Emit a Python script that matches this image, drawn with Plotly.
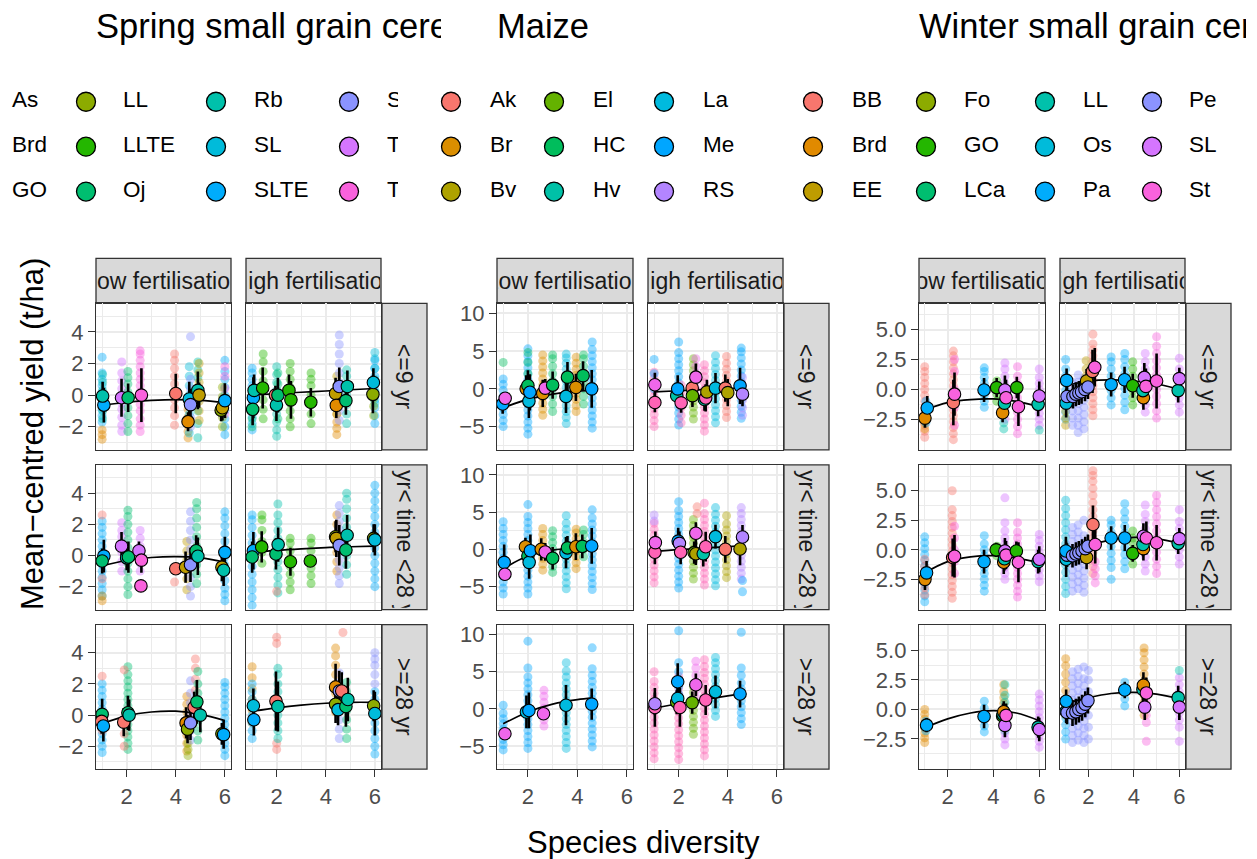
import math
import plotly.graph_objects as go

W, H = 1257, 859
FONT = "Liberation Sans, Arial, sans-serif"

# ------------------------------------------------------------------ species
SPRING_SPECIES = ["As", "Brd", "GO", "LL", "LLTE", "Oj", "Rb", "SL", "SLTE", "S", "T", "Tb", "U"]
SPRING_LABELS = ["As", "Brd", "GO", "LL", "LLTE", "Oj", "Rb", "SL", "SLTE", "S", "T", "T", ""]
MAIZE_SPECIES = ["Ak", "Br", "Bv", "El", "HC", "Hv", "La", "Me", "RS", "Mx", "My"]
MAIZE_LABELS = ["Ak", "Br", "Bv", "El", "HC", "Hv", "La", "Me", "RS", "", ""]
WINTER_SPECIES = ["BB", "Brd", "EE", "Fo", "GO", "LCa", "LL", "Os", "Pa", "Pe", "SL", "St", "W"]
WINTER_LABELS = ["BB", "Brd", "EE", "Fo", "GO", "LCa", "LL", "Os", "Pa", "Pe", "SL", "St", ""]

TITLES = ["Spring small grain cereals", "Maize", "Winter small grain cereals"]
FERT = ["Low fertilisation", "High fertilisation"]
TIMES = ["<=9 yr", "9 yr< time <28 yr", ">=28 yr"]
X_TICKS = [2, 4, 6]
X_MINOR = [1, 3, 5]

# ------------------------------------------------------------------ means: (row, col, species, x, mean, err)
SPRING_MEANS = [
    (0, 0, "SLTE", 1.07, -0.63, 1.1), (0, 0, "Rb", 1.02, -0.06, 0.9), (0, 0, "T", 1.79, -0.17, 1.2),
    (0, 0, "Oj", 2.06, -0.17, 0.9), (0, 0, "Tb", 2.6, 0.0, 1.7), (0, 0, "As", 4.0, 0.1, 1.25),
    (0, 0, "Brd", 4.5, -1.68, 0.6), (0, 0, "SL", 4.55, -0.25, 1.1), (0, 0, "S", 4.6, -0.6, 1.0),
    (0, 0, "Rb", 4.9, 0.3, 1.2), (0, 0, "GO", 4.95, 0.0, 0.8), (0, 0, "LL", 5.85, -0.95, 0.7),
    (0, 0, "GO", 5.9, -0.8, 0.8), (0, 0, "SLTE", 6.0, -0.35, 1.1),
    (0, 1, "SLTE", 1.05, -0.17, 1.3), (0, 1, "Oj", 1.02, -0.9, 1.0), (0, 1, "Rb", 1.08, 0.3, 1.0),
    (0, 1, "LLTE", 1.43, 0.45, 1.3), (0, 1, "As", 1.95, 0.0, 0.6), (0, 1, "Rb", 1.99, -0.63, 1.0),
    (0, 1, "Oj", 2.05, 0.0, 1.1), (0, 1, "LLTE", 2.5, 0.3, 1.0), (0, 1, "LLTE", 2.58, -0.3, 1.2),
    (0, 1, "LLTE", 3.39, -0.45, 0.9), (0, 1, "GO", 4.4, 0.1, 1.0), (0, 1, "Brd", 4.43, -0.65, 0.8),
    (0, 1, "S", 4.55, 0.55, 1.2), (0, 1, "Oj", 4.82, -0.35, 0.9), (0, 1, "Rb", 4.88, 0.55, 1.0),
    (0, 1, "LL", 5.92, 0.05, 1.2), (0, 1, "SL", 5.94, 0.8, 0.9),
    (1, 0, "SLTE", 1.07, -0.04, 1.05), (1, 0, "Oj", 1.0, -0.35, 0.8), (1, 0, "T", 1.79, 0.6, 0.9),
    (1, 0, "Rb", 2.0, -0.15, 0.8), (1, 0, "Oj", 2.07, -0.1, 1.0), (1, 0, "T", 2.5, 0.3, 0.6),
    (1, 0, "Tb", 2.6, -0.3, 0.8), (1, 0, "Tb", 2.58, -1.95, 0.0), (1, 0, "As", 4.0, -0.85, 0.0),
    (1, 0, "GO", 4.4, -0.75, 1.0), (1, 0, "S", 4.6, -0.6, 1.1), (1, 0, "Oj", 4.83, 0.3, 1.0),
    (1, 0, "Rb", 4.9, -0.05, 1.2), (1, 0, "GO", 5.88, -0.75, 0.9), (1, 0, "Rb", 5.95, -0.95, 1.0),
    (1, 0, "SLTE", 6.0, 0.2, 1.0),
    (1, 1, "SLTE", 1.05, 0.3, 1.2), (1, 1, "Oj", 1.0, -0.1, 1.0), (1, 1, "LLTE", 1.39, 0.55, 1.0),
    (1, 1, "Oj", 1.97, 0.1, 1.0), (1, 1, "Rb", 2.06, 0.7, 1.1), (1, 1, "LLTE", 2.56, -0.4, 0.9),
    (1, 1, "LLTE", 3.37, -0.35, 0.0), (1, 1, "LL", 4.4, 1.2, 1.0), (1, 1, "GO", 4.43, 1.1, 1.2),
    (1, 1, "S", 4.55, 0.65, 1.3), (1, 1, "Oj", 4.82, 0.35, 1.2), (1, 1, "Rb", 4.87, 1.3, 1.3),
    (1, 1, "LL", 5.95, 1.1, 0.9), (1, 1, "SL", 6.0, 1.0, 1.0),
    (2, 0, "Oj", 1.0, 0.05, 1.0), (2, 0, "As", 0.98, -0.4, 0.8), (2, 0, "SLTE", 1.05, -0.7, 1.0),
    (2, 0, "As", 1.88, -0.45, 0.9), (2, 0, "Oj", 2.05, 0.15, 1.1), (2, 0, "Rb", 2.1, 0.0, 1.0),
    (2, 0, "Brd", 4.42, -0.5, 1.0), (2, 0, "LL", 4.48, -0.9, 0.9), (2, 0, "S", 4.6, -0.5, 1.1),
    (2, 0, "As", 4.75, 0.5, 1.0), (2, 0, "Oj", 4.86, 0.85, 1.4), (2, 0, "Rb", 5.0, 0.0, 1.1),
    (2, 0, "LL", 5.88, -1.2, 0.7), (2, 0, "SLTE", 5.95, -1.25, 0.9),
    (2, 1, "SL", 1.05, 0.6, 1.1), (2, 1, "SLTE", 1.07, -0.3, 1.0), (2, 1, "As", 1.97, 0.9, 1.9),
    (2, 1, "Rb", 2.05, 0.55, 1.6), (2, 1, "LL", 4.4, 0.7, 1.2), (2, 1, "Brd", 4.4, 1.8, 1.5),
    (2, 1, "SL", 4.5, 0.35, 1.0), (2, 1, "S", 4.55, 1.55, 1.3), (2, 1, "As", 4.65, 1.55, 1.2),
    (2, 1, "Oj", 4.82, 0.55, 1.3), (2, 1, "Rb", 4.9, 1.0, 1.4), (2, 1, "LL", 5.95, 0.6, 1.0),
    (2, 1, "SL", 6.0, 0.1, 1.4),
]

MAIZE_MEANS = [
    (0, 0, "Me", 0.98, -2.0, 1.3), (0, 0, "Mx", 1.08, -1.25, 0.5), (0, 0, "Br", 1.93, 0.0, 1.8),
    (0, 0, "HC", 2.0, 0.45, 2.0), (0, 0, "La", 2.04, -1.65, 2.2), (0, 0, "Me", 2.08, -0.45, 2.4),
    (0, 0, "Br", 2.6, -0.6, 1.8), (0, 0, "Mx", 2.7, 0.1, 1.2), (0, 0, "HC", 3.0, 0.5, 1.8),
    (0, 0, "La", 3.54, -1.0, 2.2), (0, 0, "HC", 3.6, 1.55, 2.0), (0, 0, "Br", 3.94, 0.2, 1.8),
    (0, 0, "HC", 4.23, 1.75, 1.9), (0, 0, "Me", 4.58, 0.0, 2.5),
    (0, 1, "Mx", 1.03, 0.55, 1.6), (0, 1, "My", 1.03, -1.8, 1.3), (0, 1, "Hv", 1.92, -0.9, 1.2),
    (0, 1, "Me", 1.96, 0.0, 1.8), (0, 1, "My", 2.1, -1.85, 1.3), (0, 1, "Ak", 2.55, 0.1, 1.5),
    (0, 1, "El", 2.56, -0.9, 1.5), (0, 1, "Mx", 2.7, 1.55, 1.8), (0, 1, "Hv", 3.05, -1.4, 1.5),
    (0, 1, "My", 3.1, -1.2, 1.8), (0, 1, "Bv", 3.15, -0.4, 1.6), (0, 1, "La", 3.5, 0.1, 2.0),
    (0, 1, "Ak", 3.9, 0.1, 1.8), (0, 1, "Bv", 4.0, -0.5, 1.8), (0, 1, "Me", 4.5, 0.4, 2.4),
    (0, 1, "RS", 4.6, -0.7, 1.6),
    (1, 0, "Me", 1.04, -1.75, 2.4), (1, 0, "Mx", 1.07, -3.35, 0.8), (1, 0, "Br", 1.9, 0.35, 1.2),
    (1, 0, "HC", 2.0, -0.9, 1.5), (1, 0, "La", 2.05, -1.75, 2.2), (1, 0, "Me", 2.1, -0.2, 2.2),
    (1, 0, "Br", 2.54, 0.0, 1.5), (1, 0, "Mx", 2.7, -0.35, 1.2), (1, 0, "HC", 3.0, -1.2, 1.5),
    (1, 0, "La", 3.54, -0.45, 2.1), (1, 0, "HC", 3.6, 0.2, 1.6), (1, 0, "Br", 3.94, 0.35, 1.8),
    (1, 0, "HC", 4.2, 0.4, 1.6), (1, 0, "Me", 4.58, 0.45, 2.4),
    (1, 1, "My", 1.03, -0.4, 1.6), (1, 1, "Mx", 1.05, 0.9, 1.5), (1, 1, "Me", 1.98, 1.1, 1.8),
    (1, 1, "RS", 2.03, 0.8, 1.6), (1, 1, "My", 2.08, -0.4, 1.6), (1, 1, "El", 2.63, -0.45, 1.5),
    (1, 1, "Bv", 2.7, -0.6, 1.5), (1, 1, "Mx", 2.7, 2.15, 1.5), (1, 1, "Hv", 3.0, -0.6, 1.7),
    (1, 1, "My", 3.1, 0.35, 2.0), (1, 1, "La", 3.5, 1.7, 1.6), (1, 1, "Ak", 3.9, 0.0, 1.8),
    (1, 1, "Bv", 4.5, 0.05, 2.2), (1, 1, "RS", 4.6, 1.65, 1.6),
    (2, 0, "Mx", 1.07, -3.33, 0.8), (2, 0, "La", 1.94, -0.4, 2.2), (2, 0, "Me", 2.04, -0.2, 2.4),
    (2, 0, "Mx", 2.63, -0.65, 0.7), (2, 0, "La", 3.54, 0.5, 2.7), (2, 0, "Me", 4.58, 0.65, 2.1),
    (2, 1, "My", 1.03, 0.2, 2.6), (2, 1, "RS", 1.03, 0.7, 1.5), (2, 1, "El", 1.92, 0.9, 1.6),
    (2, 1, "La", 1.96, 1.4, 2.0), (2, 1, "Me", 1.96, 3.65, 2.5), (2, 1, "My", 2.05, 0.2, 2.6),
    (2, 1, "El", 2.55, 0.85, 1.5), (2, 1, "Mx", 2.7, 3.25, 1.5), (2, 1, "My", 3.1, 1.2, 2.0),
    (2, 1, "La", 3.5, 2.3, 2.2), (2, 1, "Me", 4.5, 2.0, 1.8),
]

WINTER_MEANS = [
    (0, 0, "Brd", 1.01, -2.4, 0.8), (0, 0, "Pa", 1.11, -1.55, 1.0), (0, 0, "BB", 2.25, -1.1, 1.9),
    (0, 0, "St", 2.3, -0.4, 1.8), (0, 0, "Pa", 3.59, -0.05, 1.0), (0, 0, "GO", 4.14, 0.15, 0.8),
    (0, 0, "Brd", 4.4, -1.95, 0.8), (0, 0, "LL", 4.48, -1.15, 1.0), (0, 0, "SL", 4.5, -0.05, 1.2),
    (0, 0, "St", 4.55, -0.7, 1.5), (0, 0, "GO", 5.02, 0.15, 0.9), (0, 0, "St", 5.09, -1.45, 1.6),
    (0, 0, "LL", 5.95, -1.25, 1.0), (0, 0, "SL", 6.0, -0.55, 1.2),
    (0, 1, "Os", 1.02, -1.15, 1.2), (0, 1, "Pe", 1.06, -0.6, 1.0), (0, 1, "Pa", 1.04, 0.75, 1.0),
    (0, 1, "Pe", 1.32, -0.6, 1.0), (0, 1, "Pe", 1.45, -0.4, 1.0), (0, 1, "Pe", 1.58, -0.3, 1.0),
    (0, 1, "Pe", 1.7, -0.2, 1.0), (0, 1, "EE", 1.92, 0.7, 1.0), (0, 1, "Pe", 1.85, 0.0, 1.0),
    (0, 1, "Pe", 1.98, 0.2, 1.0), (0, 1, "BB", 2.18, 1.5, 1.8), (0, 1, "St", 2.28, 1.85, 1.6),
    (0, 1, "Pa", 3.0, 0.4, 1.0), (0, 1, "Pa", 3.59, 0.8, 1.1), (0, 1, "GO", 3.95, 0.3, 1.0),
    (0, 1, "Brd", 4.42, -0.7, 1.0), (0, 1, "LL", 4.4, -0.1, 1.0), (0, 1, "SL", 4.46, 1.0, 1.2),
    (0, 1, "St", 4.53, 0.25, 1.5), (0, 1, "St", 5.0, 0.7, 2.3), (0, 1, "LL", 5.95, -0.1, 1.0),
    (0, 1, "SL", 6.0, 0.9, 0.9),
    (1, 0, "Brd", 1.01, -2.5, 0.9), (1, 0, "Pa", 1.08, -1.95, 1.0), (1, 0, "BB", 2.22, -0.65, 1.6),
    (1, 0, "St", 2.3, -0.55, 1.8), (1, 0, "Pa", 3.59, -1.0, 1.0), (1, 0, "GO", 4.12, 0.0, 0.6),
    (1, 0, "Brd", 4.45, -1.05, 1.0), (1, 0, "LL", 4.48, -0.75, 1.0), (1, 0, "SL", 4.5, -0.1, 1.1),
    (1, 0, "St", 4.55, -0.45, 1.2), (1, 0, "GO", 5.0, -0.1, 0.8), (1, 0, "St", 5.09, -1.05, 1.7),
    (1, 0, "LL", 5.95, -1.0, 1.0), (1, 0, "SL", 6.0, -0.8, 1.1),
    (1, 1, "Os", 1.02, -0.8, 1.5), (1, 1, "Pe", 1.06, -0.45, 1.0), (1, 1, "Pa", 1.01, -0.1, 1.2),
    (1, 1, "Pe", 1.3, -0.5, 1.0), (1, 1, "Pe", 1.45, -0.35, 1.0), (1, 1, "Pe", 1.58, -0.25, 1.0),
    (1, 1, "Pe", 1.72, -0.1, 1.0), (1, 1, "EE", 1.92, -0.65, 1.0), (1, 1, "Pe", 1.86, 0.1, 1.0),
    (1, 1, "Pe", 1.98, 0.3, 1.0), (1, 1, "BB", 2.2, 2.15, 1.6), (1, 1, "St", 2.3, 0.45, 1.6),
    (1, 1, "Pa", 3.0, 1.0, 1.0), (1, 1, "Pa", 3.6, 1.0, 1.1), (1, 1, "GO", 3.95, -0.3, 0.7),
    (1, 1, "Brd", 4.42, 0.1, 1.0), (1, 1, "LL", 4.4, 0.45, 1.0), (1, 1, "SL", 4.42, 1.15, 1.1),
    (1, 1, "St", 4.55, 1.0, 1.4), (1, 1, "St", 5.0, 0.6, 1.5), (1, 1, "LL", 5.95, 0.55, 0.9),
    (1, 1, "SL", 6.0, 0.95, 0.9),
    (2, 0, "Pa", 1.08, -1.33, 0.6), (2, 0, "Pa", 3.59, -0.6, 1.0), (2, 0, "GO", 4.4, -0.55, 0.5),
    (2, 0, "LL", 4.42, -0.4, 0.9), (2, 0, "Brd", 4.45, -0.2, 0.9), (2, 0, "SL", 4.5, -1.35, 1.0),
    (2, 0, "St", 4.55, -0.5, 1.0), (2, 0, "LL", 5.95, -1.5, 0.9), (2, 0, "SL", 6.0, -1.7, 1.0),
    (2, 1, "Os", 1.02, -0.15, 1.0), (2, 1, "Pe", 1.06, -0.25, 1.0), (2, 1, "Pa", 1.02, 0.7, 1.0),
    (2, 1, "Pe", 1.3, -0.3, 1.1), (2, 1, "Pe", 1.45, -0.2, 1.1), (2, 1, "Pe", 1.58, 0.0, 1.1),
    (2, 1, "Pe", 1.72, 0.15, 1.1), (2, 1, "Pe", 1.86, 0.45, 1.1), (2, 1, "Pe", 1.98, 0.75, 1.1),
    (2, 1, "Pa", 3.6, 1.65, 0.7), (2, 1, "SL", 4.48, 0.2, 1.1), (2, 1, "LL", 4.4, 1.7, 1.0),
    (2, 1, "Brd", 4.42, 2.05, 1.1), (2, 1, "St", 4.55, 1.4, 1.3), (2, 1, "LL", 5.95, 1.0, 1.0),
    (2, 1, "SL", 6.0, 0.2, 1.1),
]

# ------------------------------------------------------------------ raw observations: (row, col, species, x, values)
SPRING_RAW = [
    (0, 0, "SLTE", 1.0, [-1.7, -1.3, -0.9, -0.5, -0.2, 0.2, 0.6, 1.0, 1.4, 2.4]),
    (0, 0, "Brd", 1.0, [-2.8, -2.5, -2.2]),
    (0, 0, "Rb", 1.02, [-1.5, -1.0, -0.3, 0.3, 0.8, 1.3]),
    (0, 0, "T", 1.8, [-2.3, -1.9, -1.4, -0.9, -0.5, 0.0, 0.4, 0.9, 1.4, 2.1]),
    (0, 0, "Oj", 2.05, [-2.3, -1.8, -1.3, -0.8, -0.3, 0.2, 0.7, 1.1, 1.5]),
    (0, 0, "Tb", 2.55, [-2.3, -1.9, -1.5, -1.0, -0.6, -0.2, 0.2, 0.6, 1.0, 1.4, 1.8, 2.2, 2.6, 2.8]),
    (0, 0, "As", 3.95, [-1.9, -1.3, -0.8, -0.3, 0.2, 0.7, 1.2, 1.7, 2.2, 2.6]),
    (0, 0, "Brd", 4.5, [-2.7, -2.3, -1.9, -1.4, -0.9]),
    (0, 0, "SL", 4.55, [-2.4, -1.8, -1.2, -0.6, 0.0, 0.6, 1.2, 1.8]),
    (0, 0, "S", 4.6, [-2.0, -1.4, -0.8, -0.2, 0.4, 1.0, 3.7]),
    (0, 0, "Rb", 4.9, [-2.7, -1.8, -1.0, -0.3, 0.4, 1.1, 1.6, 2.1]),
    (0, 0, "GO", 4.95, [-1.6, -1.0, -0.4, 0.2, 0.8, 1.4, 2.0]),
    (0, 0, "SLTE", 6.0, [-2.5, -2.0, -1.5, -1.0, -0.5, 0.0, 0.5, 1.0, 1.5, 2.2]),
    (0, 0, "Tb", 6.0, [-1.2, -0.4, 0.4, 1.2, 1.8]),
    (0, 0, "LL", 5.9, [-2.0, -1.4, -0.7, -0.1, 0.5]),
    (0, 1, "SLTE", 1.0, [-2.2, -1.8, -1.4, -1.0, -0.6, -0.2, 0.2, 0.6, 1.0, 1.4, 1.7]),
    (0, 1, "Oj", 1.0, [-2.0, -1.5, -0.8, 0.0]),
    (0, 1, "LLTE", 1.45, [-1.5, -0.9, -0.3, 0.3, 0.9, 1.5, 2.1, 2.6]),
    (0, 1, "Rb", 2.0, [-2.6, -2.2, -1.7, -1.2, -0.7, -0.2, 0.3, 0.8, 1.3, 1.8]),
    (0, 1, "Oj", 2.05, [-1.5, -0.8, 0.0, 0.7, 1.4]),
    (0, 1, "LLTE", 2.55, [-2.0, -1.5, -1.0, -0.5, 0.0, 0.5, 1.0, 1.5, 2.0]),
    (0, 1, "LLTE", 3.4, [-1.8, -1.2, -0.6, 0.0, 0.6, 1.0, 1.4]),
    (0, 1, "Brd", 4.45, [-2.5, -2.1, -1.7, -1.2]),
    (0, 1, "GO", 4.45, [-1.2, -0.6, 0.0, 0.6, 1.2]),
    (0, 1, "S", 4.55, [-1.6, -1.0, -0.4, 0.2, 0.8, 1.4, 2.0, 2.6, 3.2, 3.8]),
    (0, 1, "Rb", 4.85, [-1.8, -1.2, -0.6, 0.0, 0.6, 1.2, 1.6]),
    (0, 1, "SLTE", 6.0, [-1.8, -1.3, -0.8, -0.3, 0.2, 0.7, 1.2, 1.7, 2.2]),
    (0, 1, "SL", 6.0, [-0.5, 0.3, 1.0, 1.7, 2.3, 2.7]),
    (0, 1, "LL", 5.95, [-1.3, -0.7, -0.2]),
    (1, 0, "SLTE", 1.0, [-2.6, -2.2, -1.8, -1.4, -1.0, -0.6, -0.2, 0.2, 0.6, 1.0, 1.4, 1.8, 2.2]),
    (1, 0, "Brd", 1.0, [-2.9, -2.6]),
    (1, 0, "As", 1.0, [2.6, -1.5]),
    (1, 0, "T", 1.8, [-1.0, -0.4, 0.2, 0.7, 1.2, 1.6, 2.1]),
    (1, 0, "Oj", 2.05, [-2.5, -2.0, -1.5, -1.0, -0.5, 0.0, 0.5, 1.0, 1.5, 2.0, 2.5, 2.9]),
    (1, 0, "T", 2.55, [-1.0, -0.5, 0.1, 0.6, 1.1, 1.6]),
    (1, 0, "As", 3.95, [-1.7, -0.9]),
    (1, 0, "GO", 4.45, [-2.2, -1.5, -0.9, -0.3, 0.3, 0.9]),
    (1, 0, "S", 4.6, [-2.6, -2.0, -1.4, -0.8, -0.2, 0.4, 1.0, 1.6, 2.2, 2.8]),
    (1, 0, "Oj", 4.85, [-1.8, -1.2, -0.6, 0.0, 0.6, 1.2, 1.8, 2.4, 3.0, 3.4]),
    (1, 0, "SLTE", 6.0, [-2.9, -2.5, -2.1, -1.6, -1.1, -0.6, -0.1, 0.4, 0.9, 1.4, 1.9, 2.4, 2.8]),
    (1, 1, "SLTE", 1.0, [-3.2, -2.7, -2.2, -1.7, -1.2, -0.7, -0.2, 0.3, 0.8, 1.3, 1.8, 2.3, 2.6]),
    (1, 1, "LLTE", 1.4, [-0.5, 0.2, 0.9, 1.6, 2.3, 2.6]),
    (1, 1, "Rb", 2.05, [-2.4, -1.9, -1.4, -0.9, -0.4, 0.1, 0.6, 1.1, 1.6, 2.1, 2.6, 3.3]),
    (1, 1, "As", 2.0, [-2.3]),
    (1, 1, "LLTE", 2.55, [-2.2, -1.7, -1.2, -0.7, -0.2, 0.3, 0.8, 1.1]),
    (1, 1, "LLTE", 3.4, [-1.8, -1.3, -0.8, -0.3, 0.3, 0.8, 1.1]),
    (1, 1, "Brd", 4.45, [-1.0, -0.4, 0.2, 0.8, 1.4, 2.0, 2.6]),
    (1, 1, "S", 4.55, [-1.8, -1.3, -0.8, -0.3, 0.2, 0.7, 1.2, 1.7, 2.2, 2.7, 3.2]),
    (1, 1, "Rb", 4.85, [-1.2, -0.6, 0.0, 0.6, 1.2, 1.8, 2.4, 3.0, 3.6, 4.0]),
    (1, 1, "SLTE", 6.0, [-2.0, -1.5, -1.0, -0.5, 0.0, 0.5, 1.0, 1.5, 2.0, 2.5, 3.0, 3.5, 4.0, 4.5]),
    (2, 0, "SLTE", 1.0, [-2.4, -2.0, -1.6, -1.2, -0.8, -0.4, 0.0, 0.4, 0.8, 1.2, 1.6, 2.0]),
    (2, 0, "As", 1.0, [2.5, -1.0]),
    (2, 0, "Oj", 2.05, [-2.2, -1.8, -1.4, -1.0, -0.6, -0.2, 0.2, 0.6, 1.0, 1.4, 1.8, 2.2, 2.6, 3.1]),
    (2, 0, "As", 1.9, [-2.0, -1.2, 2.9]),
    (2, 0, "Brd", 4.45, [-2.3, -1.8, -1.3, -0.8, -0.3, 0.2, 0.7, 1.2]),
    (2, 0, "LL", 4.5, [-2.6, -2.2, -1.8]),
    (2, 0, "S", 4.6, [-1.6, -1.0, -0.4, 0.2, 0.8, 1.4, 2.2]),
    (2, 0, "As", 4.8, [0.9, 1.6, 2.3, 3.0, 3.6]),
    (2, 0, "Oj", 4.9, [-1.6, -1.0, -0.4, 0.2, 0.8, 1.4, 2.0, 2.8]),
    (2, 0, "SLTE", 6.0, [-2.6, -2.2, -1.8, -1.4, -1.0, -0.6, -0.2, 0.2, 0.6, 1.0, 1.4, 1.8, 2.1]),
    (2, 1, "Brd", 1.0, [-0.5, 0.3, 1.0, 1.7, 2.4, 3.1]),
    (2, 1, "SLTE", 1.0, [-1.5, -1.0, -0.5, 0.0, 0.5, 1.0, 1.5, 2.0]),
    (2, 1, "As", 2.0, [-2.2, -1.8, 4.6, 5.0]),
    (2, 1, "Rb", 2.05, [-1.5, -1.0, -0.5, 0.0, 0.5, 1.0, 1.5, 2.0, 2.6, 3.0]),
    (2, 1, "Brd", 4.4, [0.2, 0.8, 1.4, 2.0, 2.6, 3.2, 3.8, 4.3]),
    (2, 1, "S", 4.55, [-1.5, -0.9, -0.3, 0.3, 0.9, 1.5, 2.1, 2.7]),
    (2, 1, "Oj", 4.85, [-1.5, -0.9, -0.3, 0.3, 0.9, 1.5, 2.1]),
    (2, 1, "As", 4.7, [5.3]),
    (2, 1, "SLTE", 6.0, [-2.5, -2.0, -1.5, -1.0, -0.5, 0.0, 0.5, 1.0, 1.5]),
    (2, 1, "S", 6.0, [2.0, 2.6, 3.2, 3.6, 4.0]),
]

MAIZE_RAW = [
    (0, 0, "Me", 1.0, [-5.0, -4.2, -3.4, -2.6, -1.8, -1.0, -0.2, 0.6, 1.3]),
    (0, 0, "HC", 1.0, [3.5]),
    (0, 0, "Me", 2.0, [-6.0, -5.2, -4.4, -3.6, -2.8, -2.0, -1.2, -0.4, 0.4, 1.2, 2.0, 2.8, 3.6, 4.4, 5.3]),
    (0, 0, "HC", 2.0, [-1.0, 0.5, 2.0, 3.5, 4.8]),
    (0, 0, "Br", 2.6, [-3.5, -2.7, -1.9, -1.1, -0.3, 0.5, 1.3, 2.1, 2.9, 3.7, 4.5]),
    (0, 0, "HC", 3.0, [-3.0, -2.0, -1.0, 0.0, 1.0, 2.0, 3.0, 4.0, 4.5]),
    (0, 0, "La", 3.55, [-4.6, -3.8, -3.0, -2.2, -1.4, -0.6, 0.2, 1.0, 1.8, 2.6, 3.4, 4.1, 4.6]),
    (0, 0, "Br", 3.95, [-3.0, -2.2, -1.4, -0.6, 0.2, 1.0, 1.8, 2.6, 3.4, 4.2]),
    (0, 0, "HC", 4.25, [-2.0, -1.0, 0.0, 1.0, 2.0, 3.0, 4.0, 4.5]),
    (0, 0, "Me", 4.6, [-5.2, -4.4, -3.6, -2.8, -2.0, -1.2, -0.4, 0.4, 1.2, 2.0, 2.8, 3.6, 4.4, 5.2, 6.2]),
    (0, 1, "My", 1.0, [-5.0, -4.2, -3.4, -2.6, -1.8, -1.0, -0.2, 0.6, 1.4, 2.2]),
    (0, 1, "Me", 1.0, [-2.0, 0.0, 2.0, 3.9]),
    (0, 1, "Me", 2.0, [-4.8, -4.0, -3.2, -2.4, -1.6, -0.8, 0.0, 0.8, 1.6, 2.4, 3.2, 4.0, 4.8, 6.2]),
    (0, 1, "My", 2.1, [-4.5, -3.5, -2.5, -1.5, -0.5, 0.5]),
    (0, 1, "El", 2.6, [-4.0, -3.2, -2.4, -1.6, -0.8, 0.0, 0.8, 1.6, 2.4, 3.2, 4.0]),
    (0, 1, "Mx", 2.7, [-1.0, 0.0, 1.0, 2.0, 3.0, 4.0]),
    (0, 1, "My", 3.05, [-5.6, -4.8, -4.0, -3.2, -2.4, -1.6, -0.8, 0.0, 0.8, 1.6, 2.4, 3.2]),
    (0, 1, "La", 3.5, [-4.5, -3.7, -2.9, -2.1, -1.3, -0.5, 0.3, 1.1, 1.9, 2.7, 3.5, 4.4]),
    (0, 1, "Ak", 3.95, [-3.8, -3.0, -2.2, -1.4, -0.6, 0.2, 1.0, 1.8, 2.6, 3.4, 4.3]),
    (0, 1, "Me", 4.55, [-3.9, -3.1, -2.3, -1.5, -0.7, 0.1, 0.9, 1.7, 2.5, 3.3, 4.1, 4.9, 5.4]),
    (0, 1, "RS", 4.6, [-3.5, -2.5, -1.5, -0.5, 0.5, 1.5]),
    (1, 0, "Me", 1.0, [-6.0, -5.2, -4.4, -3.6, -2.8, -2.0, -1.2, -0.4, 0.4, 1.2, 2.0, 2.8, 3.7]),
    (1, 0, "Me", 2.0, [-6.0, -5.2, -4.4, -3.6, -2.8, -2.0, -1.2, -0.4, 0.4, 1.2, 2.0, 2.8, 3.6, 4.4, 6.0]),
    (1, 0, "Br", 2.6, [-2.8, -2.0, -1.2, -0.4, 0.4, 1.2, 2.0, 2.8]),
    (1, 0, "HC", 3.0, [-3.1, -2.3, -1.5, -0.7, 0.1, 0.9, 1.7, 2.5]),
    (1, 0, "La", 3.55, [-5.3, -4.5, -3.7, -2.9, -2.1, -1.3, -0.5, 0.3, 1.1, 1.9, 2.7, 3.5, 4.5]),
    (1, 0, "Br", 3.95, [-2.6, -1.8, -1.0, -0.2, 0.6, 1.4, 2.2, 2.7]),
    (1, 0, "HC", 4.25, [-1.0, 0.0, 1.0, 2.0, 2.6]),
    (1, 0, "Me", 4.6, [-5.4, -4.6, -3.8, -3.0, -2.2, -1.4, -0.6, 0.2, 1.0, 1.8, 2.6, 3.4, 4.2, 5.3]),
    (1, 1, "My", 1.0, [-4.5, -3.7, -2.9, -2.1, -1.3, -0.5, 0.3, 1.1, 1.9, 2.7, 3.5]),
    (1, 1, "RS", 1.0, [4.6, 3.8]),
    (1, 1, "Me", 2.0, [-5.2, -4.4, -3.6, -2.8, -2.0, -1.2, -0.4, 0.4, 1.2, 2.0, 2.8, 3.6, 4.4, 5.2, 6.4]),
    (1, 1, "El", 2.6, [-4.0, -3.2, -2.4, -1.6, -0.8, 0.0, 0.8, 1.6, 2.4, 3.2, 4.0]),
    (1, 1, "Ak", 2.75, [4.8, 5.7]),
    (1, 1, "My", 3.05, [-4.8, -4.0, -3.2, -2.4, -1.6, -0.8, 0.0, 0.8, 1.6, 2.4, 3.2, 4.0, 4.8, 6.2]),
    (1, 1, "La", 3.5, [-4.9, -4.1, -3.3, -2.5, -1.7, -0.9, -0.1, 0.7, 1.5, 2.3, 3.1, 3.9, 4.7, 5.6]),
    (1, 1, "Bv", 3.95, [-3.8, -3.0, -2.2, -1.4, -0.6, 0.2, 1.0, 1.8, 2.6, 3.4, 4.5]),
    (1, 1, "RS", 4.55, [-4.0, -3.2, -2.4, -1.6, -0.8, 0.0, 0.8, 1.6, 2.4, 3.2, 4.0, 4.8, 5.6]),
    (1, 1, "Me", 4.6, [-5.7, -4.2]),
    (2, 0, "Me", 1.0, [-5.5, -4.8, -4.1, -3.4, -2.7, -2.0, -1.3, -0.6, 0.5]),
    (2, 0, "Me", 2.0, [-5.3, -4.5, -3.7, -2.9, -2.1, -1.3, -0.5, 0.3, 1.1, 1.9, 2.7, 3.5, 4.3, 5.5, 9.1]),
    (2, 0, "Mx", 2.65, [-2.3, -1.5, -0.7, 0.1, 0.9, 1.7, 2.5]),
    (2, 0, "La", 3.55, [-5.3, -4.5, -3.7, -2.9, -2.1, -1.3, -0.5, 0.3, 1.1, 1.9, 2.7, 3.5, 4.3, 5.1, 6.2]),
    (2, 0, "Me", 4.6, [-5.1, -4.3, -3.5, -2.7, -1.9, -1.1, -0.3, 0.5, 1.3, 2.1, 2.9, 3.7, 4.5, 5.4, 8.2]),
    (2, 1, "My", 1.0, [-6.7, -5.9, -5.1, -4.3, -3.5, -2.7, -1.9, -1.1, -0.3, 0.5, 1.3, 2.1, 2.9, 3.7, 5.0]),
    (2, 1, "My", 2.0, [-6.8, -6.0, -5.2, -4.4, -3.6, -2.8, -2.0, -1.2, -0.4, 0.4, 1.2, 2.0, 2.8, 3.6, 4.4]),
    (2, 1, "Me", 2.0, [1.0, 2.0, 3.0, 4.0, 5.0, 6.2, 10.5]),
    (2, 1, "El", 2.6, [-3.4, -2.6, -1.8, -1.0, -0.2, 0.6, 1.4, 2.2, 3.0]),
    (2, 1, "Mx", 2.7, [1.5, 2.5, 3.5, 4.5, 5.5, 6.4]),
    (2, 1, "My", 3.05, [-6.3, -5.5, -4.7, -3.9, -3.1, -2.3, -1.5, -0.7, 0.1, 0.9, 1.7, 2.5, 3.3, 4.1, 4.9, 5.7, 6.6]),
    (2, 1, "La", 3.5, [-1.0, -0.2, 0.6, 1.4, 2.2, 3.0, 3.8, 4.6, 5.4, 6.2, 6.9]),
    (2, 1, "Me", 4.55, [-2.1, -1.3, -0.5, 0.3, 1.1, 1.9, 2.7, 3.5, 4.5, 5.5, 10.3]),
]

WINTER_RAW = [
    (0, 0, "BB", 1.0, [-4.0, -3.5, -3.0, -2.5, -2.0, -1.5, -1.0, -0.5, 0.0, 0.5, 1.0, 1.5, 1.9]),
    (0, 0, "Brd", 1.0, [-3.3, -2.8, -2.2]),
    (0, 0, "Pa", 1.05, [-2.8, -2.2, -1.6, -1.0]),
    (0, 0, "BB", 2.25, [-4.2, -3.7, -3.2, -2.7, -2.2, -1.7, -1.2, -0.7, -0.2, 0.3, 0.8, 1.3, 1.8, 2.3, 2.8, 3.2]),
    (0, 0, "St", 2.3, [-3.0, -1.5, 0.0, 1.5, 2.5]),
    (0, 0, "Pa", 3.6, [-1.5, -1.0, -0.5, 0.0, 0.5, 1.0, 1.5, 1.8]),
    (0, 0, "GO", 4.15, [-1.0, -0.4, 0.2, 0.7]),
    (0, 0, "SL", 4.5, [-2.5, -1.9, -1.3, -0.7, -0.1, 0.5, 1.1, 1.7, 2.2]),
    (0, 0, "LL", 4.45, [-3.3, -2.8]),
    (0, 0, "St", 5.05, [-3.7, -3.1, -2.5, -1.9, -1.3, -0.7, -0.1, 0.5, 1.1, 1.9]),
    (0, 0, "SL", 6.0, [-3.0, -2.5, -2.0, -1.5, -1.0, -0.5, 0.0, 0.5, 1.0, 1.7]),
    (0, 0, "LL", 6.0, [-3.4]),
    (0, 1, "Pa", 1.0, [-2.5, -1.9, -1.3, -0.7, -0.1, 0.5, 1.1, 1.7, 2.5]),
    (0, 1, "EE", 1.0, [-3.0, -2.4, -1.8]),
    (0, 1, "Pe", 1.3, [-3.0, -2.4, -1.8, -1.2, -0.6, 0.0, 0.6]),
    (0, 1, "Pe", 1.55, [-3.6, -3.0, -2.4, -1.8, -1.2, -0.6, 0.0, 0.6, 1.2]),
    (0, 1, "Pe", 1.8, [-3.3, -2.7, -2.1, -1.5, -0.9, -0.3, 0.3, 0.9]),
    (0, 1, "EE", 1.9, [0.5, 1.1, 1.7, 2.4]),
    (0, 1, "BB", 2.2, [-2.2, -1.7, -1.2, -0.7, -0.2, 0.3, 0.8, 1.3, 1.8, 2.3, 2.8, 3.3, 3.8, 4.6]),
    (0, 1, "Pa", 3.0, [-1.3, -0.7, -0.1, 0.5, 1.1, 1.7, 2.3, 2.7]),
    (0, 1, "Pa", 3.6, [-1.7, -1.1, -0.5, 0.1, 0.7, 1.3, 1.9, 2.5, 3.0]),
    (0, 1, "GO", 3.95, [-1.3, -0.7, -0.1, 0.5, 1.1, 1.7, 2.3]),
    (0, 1, "SL", 4.5, [-1.9, -1.3, -0.7, -0.1, 0.5, 1.1, 1.7, 2.3, 3.0]),
    (0, 1, "St", 5.0, [-2.4, -1.8, -1.2, -0.6, 0.0, 0.6, 1.2, 1.8, 2.4, 3.0, 3.6, 4.4]),
    (0, 1, "SL", 6.0, [-1.9, -1.3, -0.7, -0.1, 0.5, 1.1, 1.7, 2.6]),
    (1, 0, "Pa", 1.0, [-4.4, -3.9, -3.4, -2.9, -2.4, -1.9, -1.4, -0.9, -0.4, 0.1, 0.6, 1.1]),
    (1, 0, "BB", 1.0, [-3.8, -3.2, -2.6, -2.0, -1.4, -0.8]),
    (1, 0, "BB", 2.2, [-4.1, -3.6, -3.1, -2.6, -2.1, -1.6, -1.1, -0.6, -0.1, 0.4, 0.9, 1.4, 1.9, 2.4, 2.9, 3.4, 5.0]),
    (1, 0, "St", 2.3, [-2.0, -1.0, 0.0, 1.0, 2.0]),
    (1, 0, "Pa", 3.6, [-3.5, -3.0, -2.5, -2.0, -1.5, -1.0, -0.5, 0.0, 0.5, 1.2]),
    (1, 0, "GO", 4.15, [-0.5, 0.0, 0.3]),
    (1, 0, "SL", 4.5, [-2.5, -2.0, -1.5, -1.0, -0.5, 0.0, 0.5, 1.0, 1.6, 2.3, 4.4]),
    (1, 0, "St", 5.05, [-4.0, -3.5, -3.0, -2.5, -2.0, -1.5, -1.0, -0.5, 0.0, 0.5, 1.0, 1.5, 2.3]),
    (1, 0, "SL", 6.0, [-2.7, -2.2, -1.7, -1.2, -0.7, -0.2, 0.3, 0.8, 1.3]),
    (1, 1, "Os", 1.0, [-3.7, -3.1, -2.5, -1.9, -1.3, -0.7, -0.1, 0.5, 1.1, 1.7, 2.3, 2.9, 3.5, 4.2]),
    (1, 1, "Pe", 1.3, [-3.5, -2.9, -2.3, -1.7, -1.1, -0.5, 0.1, 0.7, 1.3, 1.9]),
    (1, 1, "Pe", 1.55, [-3.3, -2.7, -2.1, -1.5, -0.9, -0.3, 0.3, 0.9, 1.5, 2.1]),
    (1, 1, "Pe", 1.8, [-3.6, -3.0, -2.4, -1.8, -1.2, -0.6, 0.0, 0.6, 1.2, 2.5]),
    (1, 1, "BB", 2.2, [-2.0, -1.4, -0.8, -0.2, 0.4, 1.0, 1.6, 2.2, 2.8, 3.4, 4.0, 4.6, 5.2, 5.8, 6.3, 6.7]),
    (1, 1, "St", 2.3, [-2.8, -2.2, -1.6, -1.0]),
    (1, 1, "Pa", 3.0, [-2.5, -1.5, -0.9, -0.3, 0.3, 0.9, 1.5, 2.1, 2.5]),
    (1, 1, "Pa", 3.6, [-1.6, -1.0, -0.4, 0.2, 0.8, 1.4, 2.0, 2.6, 3.2, 3.9]),
    (1, 1, "GO", 3.95, [-1.2, -0.6, 0.0, 0.6, 1.0, 1.6]),
    (1, 1, "SL", 4.5, [-1.8, -1.2, -0.6, 0.0, 0.6, 1.2, 1.8, 2.4, 3.0, 3.8]),
    (1, 1, "St", 5.0, [-2.0, -1.4, -0.8, -0.2, 0.4, 1.0, 1.6, 2.2, 2.8, 3.4, 4.0, 4.6]),
    (1, 1, "SL", 6.0, [-1.2, -0.6, 0.0, 0.6, 1.2, 1.8, 2.4, 3.4]),
    (2, 0, "Brd", 1.0, [-2.8, -2.4, -2.0, -1.6, -1.2, -0.8, -0.4, 0.0]),
    (2, 0, "Pa", 1.05, [-1.8, -1.0]),
    (2, 0, "Pa", 3.6, [-1.9, -1.4, -0.9, -0.4, 0.1, 0.7]),
    (2, 0, "Brd", 4.45, [-1.0, -0.5, 0.0, 0.5, 1.0, 1.5, 2.1]),
    (2, 0, "LL", 4.5, [-1.8, -1.2, -0.6, 0.0, 0.6, 1.2, 2.1]),
    (2, 0, "SL", 4.5, [-3.0, -2.5, -2.0, -1.5, -1.0]),
    (2, 0, "SL", 6.0, [-3.2, -2.7, -2.2, -1.7, -1.2, -0.7, -0.2, 0.3, 0.8, 1.3]),
    (2, 1, "Brd", 1.0, [-0.5, 0.2, 0.9, 1.6, 2.3, 3.0, 3.7, 4.3]),
    (2, 1, "Pa", 1.0, [-2.5, -1.9, -1.3, -0.7]),
    (2, 1, "Pe", 1.3, [-2.8, -2.2, -1.6, -1.0, -0.4, 0.2, 0.8, 1.4, 2.0, 2.6, 3.2]),
    (2, 1, "Pe", 1.55, [-2.6, -2.0, -1.4, -0.8, -0.2, 0.4, 1.0, 1.6, 2.2, 2.8, 3.4]),
    (2, 1, "Pe", 1.8, [-2.8, -2.2, -1.6, -1.0, -0.4, 0.2, 0.8, 1.4, 2.0, 2.6, 3.6]),
    (2, 1, "Pe", 2.0, [-2.5, -1.5, -0.5, 0.5, 1.5, 2.5, 3.3]),
    (2, 1, "Pa", 3.6, [0.3, 0.9, 1.5, 2.3]),
    (2, 1, "Brd", 4.45, [-0.5, 0.0, 0.6, 1.2, 1.8, 2.4, 3.0, 3.6, 4.2, 4.8, 5.2]),
    (2, 1, "St", 4.55, [-2.7, -1.1, -0.5, 0.1, 0.7]),
    (2, 1, "SL", 6.0, [-2.7, -1.5, -0.9, -0.3, 0.3, 0.9, 1.5, 2.1, 2.7]),
    (2, 1, "LL", 6.0, [3.3]),
]

# ------------------------------------------------------------------ fitted curves: (row, col) -> (x, y)
SPRING_CURVES = {
    (0, 0): ([1, 2, 3, 4, 5, 6], [-0.65, -0.45, -0.33, -0.28, -0.33, -0.48]),
    (0, 1): ([1, 2, 3, 4, 5, 6], [0.0, 0.1, 0.18, 0.26, 0.34, 0.42]),
    (1, 0): ([1, 2, 3, 4, 5, 6], [-0.65, -0.32, -0.13, -0.07, -0.15, -0.42]),
    (1, 1): ([1, 2, 3, 4, 5, 6], [0.2, 0.33, 0.43, 0.51, 0.56, 0.6]),
    (2, 0): ([1, 2, 3, 4, 5, 6], [-0.55, -0.05, 0.2, 0.25, 0.05, -0.35]),
    (2, 1): ([1, 2, 3, 4, 5, 6], [0.25, 0.47, 0.64, 0.76, 0.82, 0.82]),
}
MAIZE_CURVES = {
    (0, 0): ([1, 2, 3, 4, 4.6], [-2.5, -1.4, -0.7, -0.3, -0.2]),
    (0, 1): ([1, 2, 3, 4, 4.6], [-0.4, -0.25, -0.1, 0.05, 0.15]),
    (1, 0): ([1, 2, 3, 4, 4.6], [-2.6, -0.9, -0.1, 0.15, 0.15]),
    (1, 1): ([1, 2, 3, 4, 4.6], [-0.3, -0.05, 0.15, 0.35, 0.45]),
    (2, 0): ([1, 2, 3, 4, 4.6], [-2.0, -0.4, 0.65, 1.25, 1.45]),
    (2, 1): ([1, 2, 3, 4, 4.6], [0.1, 0.7, 1.25, 1.75, 2.05]),
}
WINTER_CURVES = {
    (0, 0): ([1, 2, 3, 4, 5, 6], [-1.7, -1.1, -0.85, -0.8, -1.0, -1.45]),
    (0, 1): ([1, 2, 3, 4, 5, 6], [0.3, 0.7, 0.8, 0.7, 0.45, 0.0]),
    (1, 0): ([1, 2, 3, 4, 5, 6], [-1.95, -1.0, -0.6, -0.5, -0.7, -1.1]),
    (1, 1): ([1, 2, 3, 4, 5, 6], [-0.55, 0.35, 0.85, 1.05, 0.95, 0.55]),
    (2, 0): ([1, 2, 3, 4, 5, 6], [-1.55, -0.8, -0.3, -0.1, -0.3, -0.95]),
    (2, 1): ([1, 2, 3, 4, 5, 6], [0.5, 1.0, 1.35, 1.45, 1.3, 0.9]),
}

# ------------------------------------------------------------------ axis settings per crop
Y_RANGES = [[-3.47, 5.81], [-8.09, 11.33], [-5.06, 7.19]]
Y_TICKS = [[-2, 0, 2, 4], [-5, 0, 5, 10], [-2.5, 0, 2.5, 5]]
Y_MINOR = [[-3, -1, 1, 3, 5], [-7.5, -2.5, 2.5, 7.5], [-3.75, -1.25, 1.25, 3.75, 6.25]]
Y_FORMAT = ["d", "d", ".1f"]
X_RANGE = [0.75, 6.25]

# ------------------------------------------------------------------ layout geometry (pixels)
PANEL_X = [[(96, 231), (246, 381)], [(497, 633), (648, 783)], [(919, 1045), (1060, 1185)]]
STRIP_X = [(382, 427), (784, 829), (1186, 1231)]
ROW_Y = [(302, 449), (464, 609), (624, 769)]
TOP_STRIP_Y = (257, 302)
LEG_ROWS_Y = [100, 145, 190]
LEG_KEY_X = [[-25, 86, 216, 349, 480], [451, 554, 664, 830], [813, 926, 1045, 1152, 1262]]
LEG_LAB_X = [[12, 123, 254, 387, 518], [490, 593, 703, 869], [852, 964, 1083, 1189, 1300]]
LEG_CLIP = [(0, 398), (398, 790), (790, 1247)]
TITLE_X = [96, 497, 919]
TITLE_CLIP = [(0, 441), (441, 900), (900, 1246)]


def hue_pal(n, c=100.0, l=65.0):
    """ggplot2 default discrete palette (HCL hues starting at 15 degrees)."""
    Xn, Yn, Zn = 95.047, 100.0, 108.883
    un = 4 * Xn / (Xn + 15 * Yn + 3 * Zn)
    vn = 9 * Yn / (Xn + 15 * Yn + 3 * Zn)
    out = []
    for i in range(n):
        h = math.radians(15 + i * 360.0 / n)
        U, V = c * math.cos(h), c * math.sin(h)
        Y = Yn * ((l + 16) / 116) ** 3
        u = U / (13 * l) + un
        v = V / (13 * l) + vn
        X = 9 * Y * u / (4 * v)
        Z = Y * (12 - 3 * u - 20 * v) / (4 * v)
        X, Y, Z = X / 100, Y / 100, Z / 100
        rgb = [3.240479 * X - 1.537150 * Y - 0.498535 * Z,
               -0.969256 * X + 1.875992 * Y + 0.041556 * Z,
               0.055648 * X - 0.204043 * Y + 1.057311 * Z]
        vals = []
        for t in rgb:
            t = 12.92 * t if t <= 0.0031308 else 1.055 * t ** (1 / 2.4) - 0.055
            vals.append(max(0, min(255, int(round(t * 255)))))
        out.append("#%02X%02X%02X" % tuple(vals))
    return out


GROUPS = [
    (SPRING_SPECIES, SPRING_LABELS, SPRING_MEANS, SPRING_RAW, SPRING_CURVES),
    (MAIZE_SPECIES, MAIZE_LABELS, MAIZE_MEANS, MAIZE_RAW, MAIZE_CURVES),
    (WINTER_SPECIES, WINTER_LABELS, WINTER_MEANS, WINTER_RAW, WINTER_CURVES),
]


def fx(px):
    return px / W


def fy(py):
    return 1 - py / H


fig = go.Figure()
layout = {}
shapes = []
annotations = []
ax_counter = [0]


def new_axes():
    ax_counter[0] += 1
    i = ax_counter[0]
    s = "" if i == 1 else str(i)
    return "x" + s, "y" + s, "xaxis" + s, "yaxis" + s


tickfont = dict(family=FONT, size=22, color="#4D4D4D")
grid_col = "#EBEBEB"

for g, (species, labels, means, raw, curves) in enumerate(GROUPS):
    cols = dict(zip(species, hue_pal(len(species))))
    for r in range(3):
        for c in range(2):
            xn, yn, xk, yk = new_axes()
            x0, x1 = PANEL_X[g][c]
            y0, y1 = ROW_Y[r]
            bottom = (r == 2)
            left = (c == 0)
            layout[xk] = dict(
                domain=[fx(x0), fx(x1)], range=X_RANGE, anchor=yn,
                tickmode="array", tickvals=X_TICKS, showticklabels=bottom,
                ticks="outside" if bottom else "", ticklen=7, tickwidth=1.3, tickcolor="#333333",
                tickfont=tickfont, showgrid=True, gridcolor=grid_col, gridwidth=1.6, zeroline=False,
                showline=True, mirror=True, linecolor="#333333", linewidth=1.3, fixedrange=True,
                minor=dict(tickmode="array", tickvals=X_MINOR, showgrid=True, gridcolor=grid_col,
                           gridwidth=0.8, ticks=""),
            )
            layout[yk] = dict(
                domain=[fy(y1), fy(y0)], range=Y_RANGES[g], anchor=xn,
                tickmode="array", tickvals=Y_TICKS[g], tickformat=Y_FORMAT[g], showticklabels=left,
                ticks="outside" if left else "", ticklen=7, tickwidth=1.3, tickcolor="#333333",
                tickfont=tickfont, showgrid=True, gridcolor=grid_col, gridwidth=1.6, zeroline=False,
                showline=True, mirror=True, linecolor="#333333", linewidth=1.3, fixedrange=True,
                minor=dict(tickmode="array", tickvals=Y_MINOR[g], showgrid=True, gridcolor=grid_col,
                           gridwidth=0.8, ticks=""),
            )
            # raw observations
            rx, ry, rc = [], [], []
            for (rr, cc, sp, xv, vals) in raw:
                if rr == r and cc == c:
                    for v in vals:
                        rx.append(xv)
                        ry.append(v)
                        rc.append(cols[sp])
            fig.add_trace(go.Scatter(x=rx, y=ry, xaxis=xn, yaxis=yn, mode="markers",
                                     marker=dict(size=9, color=rc, opacity=0.42, line=dict(width=0)),
                                     showlegend=False, hoverinfo="skip"))
            # fitted curve
            cx, cy = curves[(r, c)]
            fig.add_trace(go.Scatter(x=cx, y=cy, xaxis=xn, yaxis=yn, mode="lines",
                                     line=dict(color="black", width=1.7, shape="spline", smoothing=1.0),
                                     showlegend=False, hoverinfo="skip"))
            # species means with error bars
            mx, my, me, mc = [], [], [], []
            for (rr, cc, sp, xv, yv, ev) in means:
                if rr == r and cc == c:
                    mx.append(xv)
                    my.append(yv)
                    me.append(ev)
                    mc.append(cols[sp])
            fig.add_trace(go.Scatter(x=mx, y=my, xaxis=xn, yaxis=yn, mode="markers",
                                     marker=dict(size=12.5, color=mc, line=dict(color="black", width=1.1)),
                                     error_y=dict(type="data", array=me, symmetric=True, color="black",
                                                  thickness=2.6, width=0),
                                     showlegend=False, hoverinfo="skip"))
            # right-hand strip
            if c == 1:
                sx0, sx1 = STRIP_X[g]
                shapes.append(dict(type="rect", xref="paper", yref="paper", x0=fx(sx0), x1=fx(sx1),
                                   y0=fy(y1), y1=fy(y0), fillcolor="#D9D9D9",
                                   line=dict(color="#333333", width=1.3), layer="below"))
                annotations.append(dict(x=fx((sx0 + sx1) / 2), y=fy((y0 + y1) / 2), xref="paper", yref="paper",
                                        text=TIMES[r], showarrow=False, textangle=90,
                                        font=dict(family=FONT, size=23, color="#1A1A1A"),
                                        width=(y1 - y0) - 4, height=40, borderpad=0,
                                        xanchor="center", yanchor="middle"))
            # top strip
            if r == 0:
                ty0, ty1 = TOP_STRIP_Y
                shapes.append(dict(type="rect", xref="paper", yref="paper", x0=fx(x0), x1=fx(x1),
                                   y0=fy(ty1), y1=fy(ty0), fillcolor="#D9D9D9",
                                   line=dict(color="#333333", width=1.3), layer="below"))
                annotations.append(dict(x=fx((x0 + x1) / 2), y=fy((ty0 + ty1) / 2), xref="paper", yref="paper",
                                        text=FERT[c], showarrow=False,
                                        font=dict(family=FONT, size=23, color="#1A1A1A"),
                                        width=(x1 - x0) - 2, height=40, borderpad=0,
                                        xanchor="center", yanchor="middle"))

# ------------------------------------------------------------------ legends and titles (pixel-space overlays)
for g, (species, labels, means, raw, curves) in enumerate(GROUPS):
    pal = hue_pal(len(species))
    cx0, cx1 = LEG_CLIP[g]
    xn, yn, xk, yk = new_axes()
    layout[xk] = dict(domain=[fx(cx0), fx(cx1)], range=[cx0, cx1], visible=False, fixedrange=True, anchor=yn)
    layout[yk] = dict(domain=[fy(225), fy(70)], range=[225, 70], visible=False, fixedrange=True, anchor=xn)
    kx, ky, kc, lx, ly, lt = [], [], [], [], [], []
    for i, sp in enumerate(species):
        col, row = divmod(i, 3)
        kx.append(LEG_KEY_X[g][col])
        ky.append(LEG_ROWS_Y[row])
        kc.append(pal[i])
        lx.append(LEG_LAB_X[g][col])
        ly.append(LEG_ROWS_Y[row])
        lt.append(labels[i])
    fig.add_trace(go.Scatter(x=kx, y=ky, xaxis=xn, yaxis=yn, mode="markers",
                             marker=dict(size=19, color=kc, line=dict(color="black", width=1.3)),
                             showlegend=False, hoverinfo="skip", cliponaxis=True))
    fig.add_trace(go.Scatter(x=lx, y=ly, xaxis=xn, yaxis=yn, mode="text", text=lt,
                             textposition="middle right",
                             textfont=dict(family=FONT, size=22.5, color="black"),
                             showlegend=False, hoverinfo="skip", cliponaxis=True))
    # title
    tx0, tx1 = TITLE_CLIP[g]
    xn, yn, xk, yk = new_axes()
    layout[xk] = dict(domain=[fx(tx0), fx(tx1)], range=[tx0, tx1], visible=False, fixedrange=True, anchor=yn)
    layout[yk] = dict(domain=[fy(55), fy(0)], range=[55, 0], visible=False, fixedrange=True, anchor=xn)
    fig.add_trace(go.Scatter(x=[TITLE_X[g]], y=[27], xaxis=xn, yaxis=yn, mode="text", text=[TITLES[g]],
                             textposition="middle right",
                             textfont=dict(family=FONT, size=34.5, color="black"),
                             showlegend=False, hoverinfo="skip", cliponaxis=True))

annotations.append(dict(x=fx(33), y=fy(433), xref="paper", yref="paper", text="Mean\u2212centred yield (t/ha)",
                        showarrow=False, textangle=-90, font=dict(family=FONT, size=31, color="black"),
                        xanchor="center", yanchor="middle"))
annotations.append(dict(x=fx(643), y=fy(842), xref="paper", yref="paper", text="Species diversity",
                        showarrow=False, font=dict(family=FONT, size=31, color="black"),
                        xanchor="center", yanchor="middle"))

fig.update_layout(
    width=W, height=H, margin=dict(l=0, r=0, t=0, b=0),
    paper_bgcolor="white", plot_bgcolor="rgba(0,0,0,0)", showlegend=False,
    shapes=shapes, annotations=annotations, **layout,
)
fig.write_html("out.html")
